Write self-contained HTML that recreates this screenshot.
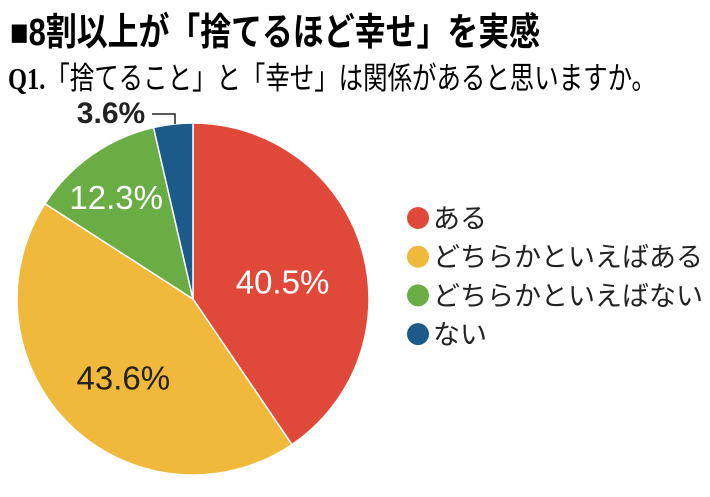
<!DOCTYPE html>
<html><head><meta charset="utf-8"><style>
body{margin:0;background:#fff;}
svg text{font-family:"Liberation Sans","Noto Sans CJK JP",sans-serif;}
</style></head><body>
<svg width="710" height="492" viewBox="0 0 710 492">
<text x="10" y="45" font-size="38" font-weight="bold" textLength="530" lengthAdjust="spacingAndGlyphs">■8割以上が「捨てるほど幸せ」を実感</text>
<text x="8" y="89" font-size="31" textLength="648" lengthAdjust="spacingAndGlyphs"><tspan font-weight="bold" font-family="Liberation Serif">Q1.</tspan>「捨てること」と「幸せ」は関係があると思いますか。</text>
<g id="slices"></g>
<g id="labels"></g>
<path d="M152 114 H175 V124" stroke="#222" stroke-width="1.5" fill="none"/>
<g id="legend"></g>
</svg>
<script>
const categories=["ある","どちらかといえばある","どちらかといえばない","ない"];
const values=[40.5,43.6,12.3,3.6];
const labels=["40.5%","43.6%","12.3%","3.6%"];
const colors=["#e0493a","#f0b93b","#6aad45","#1b5a89"];
const ns="http://www.w3.org/2000/svg";
const cx=193,cy=299,r=176;
const total=values.reduce((a,b)=>a+b,0);
const sg=document.getElementById('slices'),lg=document.getElementById('labels'),leg=document.getElementById('legend');
let a0=0;
values.forEach((v,i)=>{
  const a1=a0+v/total*2*Math.PI;
  const p=a=>[cx+r*Math.sin(a),cy-r*Math.cos(a)];
  const [x0,y0]=p(a0),[x1,y1]=p(a1);
  const path=document.createElementNS(ns,'path');
  path.setAttribute('d',`M${cx},${cy} L${x0},${y0} A${r},${r} 0 ${a1-a0>Math.PI?1:0} 1 ${x1},${y1} Z`);
  path.setAttribute('fill',colors[i]);path.setAttribute('stroke','#fff');path.setAttribute('stroke-width','1.5');
  
  
  sg.appendChild(path);
  const t=document.createElementNS(ns,'text');
  const m=(a0+a1)/2;
  let tx,ty;
  if(i<3){const f=[0.55,0.6,0.7][i];tx=cx+r*f*Math.sin(m);ty=cy-r*f*Math.cos(m)+11;}
  else{tx=111;ty=123;}
  if(i==0){tx-=3;ty+=12;}
  if(i==1){tx+=4;ty+=4;}
  if(i==2){tx-=6;}
  t.setAttribute('x',tx);t.setAttribute('y',ty);t.setAttribute('text-anchor','middle');
  t.setAttribute('font-size',i==3?'30':'33');
  t.setAttribute('fill',i==3||i==1?'#222':'#fff');
  if(i==3)t.setAttribute('font-weight','bold');
  t.textContent=labels[i];
  
  
  lg.appendChild(t);
  const c=document.createElementNS(ns,'circle');
  c.setAttribute('cx',418);c.setAttribute('cy',218+i*38.7);c.setAttribute('r',11);c.setAttribute('fill',colors[i]);
  
  
  leg.appendChild(c);
  const lt=document.createElementNS(ns,'text');
  lt.setAttribute('x',433);lt.setAttribute('y',228+i*38.7);lt.setAttribute('font-size','27');lt.setAttribute('fill','#222');
  lt.textContent=categories[i];
  
  
  leg.appendChild(lt);
  a0=a1;
});
</script>
</body></html>
